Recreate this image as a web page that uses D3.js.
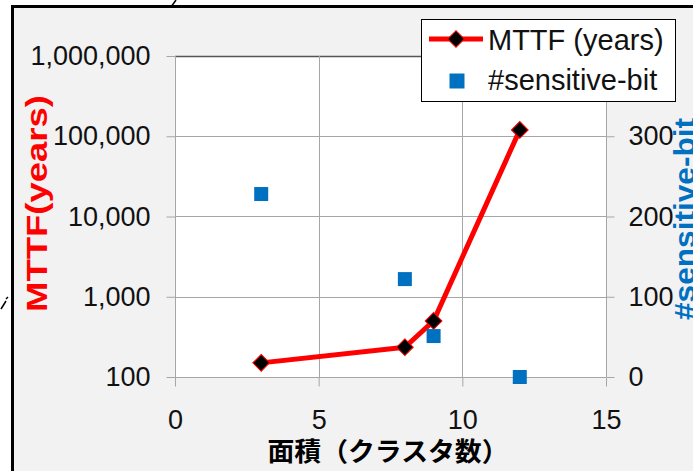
<!DOCTYPE html>
<html>
<head>
<meta charset="utf-8">
<script src="https://cdn.jsdelivr.net/npm/d3@7"></script>
<style>
  body { margin: 0; background: #fff; }
  svg { display: block; }
</style>
</head>
<body>
<div id="chart"></div>
<script>
// cluster count (x) and the two series
var area = [3, 8, 9, 12];
var mttf = [150, 235, 500, 120000];
var sensBits = [228, 122, 51, 0];

var xTicks = [0, 5, 10, 15];
var leftTicks = [100, 1000, 10000, 100000, 1000000];
var rightTicks = [0, 100, 200, 300]; // 400 sits under the legend

var leftTitle = "MTTF(years)";
var rightTitle = "#sensitive-bit";
var xTitle = "面積（クラスタ数）";
var legendNames = ["MTTF (years)", "#sensitive-bit"];

var W = 693, H = 471;
var plot = { left: 175, right: 606, top: 56, bottom: 377 };
var red = "#ff0000", blue = "#0070c0", grid = "#a6a6a6";
var font = "'Liberation Sans', Arial, sans-serif";

var svg = d3.select("#chart").append("svg")
    .attr("width", W)
    .attr("height", H);

// outer frame (cut off at the right and bottom)
svg.append("rect")
    .attr("x", 12.5).attr("y", 6.5)
    .attr("width", 800).attr("height", 600)
    .style("fill", "#f2f2f2")
    .style("stroke", "#000")
    .style("stroke-width", 3);

// little leader strokes at the edges of the crop
svg.append("path").attr("d", "M171,7 L176,0").style("stroke", "#000").style("stroke-width", 1.5).style("fill", "none");
svg.append("path").attr("d", "M1,309 L6,301 M6,299 L8,297").style("stroke", "#000").style("stroke-width", 1.5).style("fill", "none");

var x = d3.scaleLinear().domain([0, 15]).range([plot.left, plot.right]);
var yL = d3.scaleLog().domain([100, 1000000]).range([plot.bottom, plot.top]);
var yR = d3.scaleLinear().domain([0, 400]).range([plot.bottom, plot.top]);

svg.append("rect")
    .attr("x", plot.left).attr("y", plot.top)
    .attr("width", plot.right - plot.left).attr("height", plot.bottom - plot.top)
    .style("fill", "#fff");

// grid
svg.selectAll("hgrid").data(leftTicks).enter().append("line")
    .attr("x1", plot.left).attr("x2", plot.right)
    .attr("y1", function (d) { return Math.round(yL(d)) + 0.5 })
    .attr("y2", function (d) { return Math.round(yL(d)) + 0.5 })
    .style("stroke", function (d) { return d === 1000000 ? "#555" : grid })
    .style("stroke-width", function (d) { return d === 1000000 ? 1.5 : 1 });

svg.selectAll("vgrid").data(xTicks).enter().append("line")
    .attr("x1", function (d) { return Math.round(x(d)) + 0.5 })
    .attr("x2", function (d) { return Math.round(x(d)) + 0.5 })
    .attr("y1", plot.top).attr("y2", plot.bottom)
    .style("stroke", grid);

// axes
function styleAxis(g) {
    g.select(".domain").remove();
    g.selectAll(".tick line").style("stroke", grid);
    g.selectAll(".tick text")
        .style("font-family", font)
        .style("font-size", "27px")
        .style("fill", "#111");
}

svg.append("g")
    .attr("transform", "translate(" + (plot.left + 0.5) + ",0)")
    .call(d3.axisLeft(yL).tickValues(leftTicks).tickSize(9).tickPadding(16)
        .tickFormat(d3.format(",")))
    .call(styleAxis);

svg.append("g")
    .attr("transform", "translate(" + (plot.right + 0.5) + ",0)")
    .call(d3.axisRight(yR).tickValues(rightTicks).tickSize(8).tickPadding(14))
    .call(styleAxis);

svg.append("g")
    .attr("transform", "translate(0," + (plot.bottom + 0.5) + ")")
    .call(d3.axisBottom(x).tickValues(xTicks).tickSize(9).tickPadding(23))
    .call(styleAxis);

// MTTF line + diamonds
var pts = area.map(function (a, i) { return [a, mttf[i]] });
var line = d3.line()
    .x(function (d) { return x(d[0]) })
    .y(function (d) { return yL(d[1]) });

svg.append("path")
    .datum(pts)
    .attr("d", line)
    .style("fill", "none")
    .style("stroke", red)
    .style("stroke-width", 5)
    .style("stroke-linejoin", "round");

var diamond = d3.symbol().type(d3.symbolSquare).size(140);
svg.selectAll("mttfpts").data(pts).enter().append("path")
    .attr("d", diamond)
    .attr("transform", function (d) { return "translate(" + x(d[0]) + "," + yL(d[1]) + ") rotate(45)" })
    .style("fill", "#000")
    .style("stroke", red)
    .style("stroke-width", 1);

// sensitive bit squares
var square = d3.symbol().type(d3.symbolSquare).size(196);
svg.selectAll("bitpts").data(area).enter().append("path")
    .attr("d", square)
    .attr("transform", function (d, i) { return "translate(" + x(d) + "," + yR(sensBits[i]) + ")" })
    .style("fill", blue);

// axis titles
svg.append("text")
    .attr("transform", "translate(47,203.5) rotate(-90)")
    .attr("text-anchor", "middle")
    .attr("textLength", 217)
    .attr("lengthAdjust", "spacingAndGlyphs")
    .style("font-family", font)
    .style("font-weight", "bold")
    .style("font-size", "30px")
    .style("fill", red)
    .text(leftTitle);

svg.append("text")
    .attr("transform", "translate(695,219) rotate(-90)")
    .attr("text-anchor", "middle")
    .attr("textLength", 202)
    .attr("lengthAdjust", "spacingAndGlyphs")
    .style("font-family", font)
    .style("font-weight", "bold")
    .style("font-size", "30px")
    .style("fill", blue)
    .text(rightTitle);

svg.append("text")
    .attr("x", 388).attr("y", 461)
    .attr("text-anchor", "middle")
    .attr("textLength", 241)
    .attr("lengthAdjust", "spacingAndGlyphs")
    .style("font-family", "'Noto Sans CJK JP', sans-serif")
    .style("font-weight", "bold")
    .style("font-size", "26px")
    .style("fill", "#000")
    .text(xTitle);

// legend
var lg = svg.append("g").attr("transform", "translate(421,19)");
lg.append("rect")
    .attr("x", 0.5).attr("y", 0.5)
    .attr("width", 254).attr("height", 82)
    .style("fill", "#fff")
    .style("stroke", "#000")
    .style("stroke-width", 1);
lg.append("line")
    .attr("x1", 8).attr("x2", 62).attr("y1", 20).attr("y2", 20)
    .style("stroke", red).style("stroke-width", 5);
lg.append("path")
    .attr("d", diamond)
    .attr("transform", "translate(35,20) rotate(45)")
    .style("fill", "#000").style("stroke", red).style("stroke-width", 1);
lg.append("path")
    .attr("d", d3.symbol().type(d3.symbolSquare).size(225))
    .attr("transform", "translate(36,62)")
    .style("fill", blue);
lg.selectAll("legtext").data(legendNames).enter().append("text")
    .attr("x", 67)
    .attr("y", function (d, i) { return 31 + i * 40 })
    .style("font-family", font)
    .style("font-size", "29px")
    .style("fill", "#111")
    .text(function (d) { return d });
</script>
</body>
</html>
